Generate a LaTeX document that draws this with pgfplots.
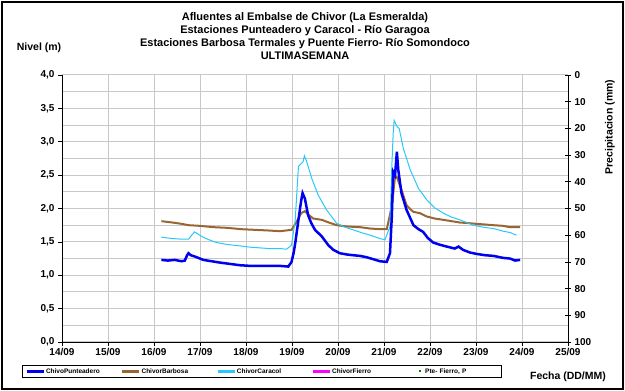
\documentclass[border=0pt]{standalone}
\usepackage{pgfplots}
\pgfplotsset{compat=1.18}
\usepackage{fontspec}
\setmainfont{Liberation Sans}

\definecolor{punt}{RGB}{0,0,240}
\definecolor{barb}{RGB}{153,102,51}
\definecolor{cara}{RGB}{40,200,250}
\definecolor{fierro}{RGB}{255,0,255}
\definecolor{ptef}{RGB}{0,128,0}
\definecolor{gridc}{RGB}{200,200,200}

\begin{document}
\begin{tikzpicture}[x=1pt,y=1pt]
\useasboundingbox (0,0) rectangle (625,391);
\draw[line width=1.5pt] (2,2) rectangle (623,389);

\begin{axis}[
    at={(62pt,49pt)}, anchor=south west,
    scale only axis, width=506pt, height=267pt,
    xmin=14, xmax=25, ymin=0, ymax=4,
    axis x line*=bottom, axis y line*=left,
    axis line style={black, line width=0.8pt, -},
    xtick={14,...,25},
    xticklabels={14/09,15/09,16/09,17/09,18/09,19/09,20/09,21/09,22/09,23/09,24/09,25/09},
    ytick={0,0.5,...,4},
    minor ytick={0.25,0.75,...,3.75},
    grid=both,
    major grid style={gridc, line width=1pt},
    minor grid style={gridc, line width=1pt},
    tick align=outside, major tick length=4pt, minor tick length=0pt,
    tick style={black, line width=0.7pt},
    yticklabel style={/pgf/number format/.cd, use comma, fixed, fixed zerofill, precision=1, assume math mode=true},
    ticklabel style={font=\fontsize{10}{11}\selectfont\bfseries},
    xticklabel style={yshift=1pt},
    legend columns=5,
    legend cell align=left,
    legend style={at={(rel axis cs:-0.079,-0.088)}, anchor=north west,
        draw=black, line width=0.8pt, inner xsep=3pt, inner ysep=1.5pt,
        font=\fontsize{6.5}{7}\selectfont\bfseries,
        nodes={text width=72pt, inner sep=1pt},
        /tikz/every even column/.append style={column sep=2pt}},
]
\addplot[barb, line width=2pt, forget plot] coordinates {
(16.16,1.81) (16.40,1.79) (16.60,1.77) (16.75,1.75) (17.00,1.74) (17.30,1.72)
(17.60,1.71) (17.90,1.69) (18.20,1.68) (18.50,1.67) (18.74,1.66) (18.99,1.68)
(19.10,1.80) (19.20,1.93) (19.28,1.96) (19.37,1.90) (19.46,1.85) (19.65,1.83)
(19.80,1.79) (19.97,1.75) (20.20,1.73) (20.48,1.72) (20.70,1.70) (20.91,1.69)
(21.06,1.69) (21.17,2.03) (21.24,2.48) (21.28,2.47) (21.38,2.28) (21.49,2.05)
(21.57,1.99) (21.64,1.95) (21.78,1.93) (21.93,1.88) (22.10,1.85) (22.29,1.83)
(22.47,1.81) (22.65,1.79) (22.85,1.78) (23.01,1.77) (23.20,1.76) (23.38,1.75)
(23.59,1.74) (23.74,1.72) (23.96,1.72)};
\addplot[cara, line width=1pt, forget plot] coordinates {
(16.16,1.57) (16.40,1.55) (16.60,1.54) (16.75,1.54) (16.82,1.60) (16.88,1.65)
(16.95,1.62) (17.04,1.58) (17.20,1.53) (17.36,1.49) (17.60,1.46) (17.87,1.44)
(18.10,1.42) (18.30,1.41) (18.50,1.40) (18.74,1.40) (18.88,1.39) (18.99,1.45)
(19.07,1.83) (19.14,2.63) (19.21,2.68) (19.24,2.70) (19.27,2.79) (19.32,2.70)
(19.43,2.45) (19.57,2.20) (19.75,1.98) (19.97,1.78) (20.15,1.72) (20.33,1.68)
(20.50,1.64) (20.70,1.60) (20.91,1.55) (21.02,1.53) (21.13,1.73) (21.17,2.63)
(21.20,3.13) (21.22,3.32) (21.28,3.23) (21.33,3.20) (21.42,2.90) (21.57,2.58)
(21.75,2.30) (21.93,2.13) (22.10,2.01) (22.29,1.93) (22.47,1.87) (22.65,1.83)
(22.80,1.79) (22.94,1.75) (23.15,1.72) (23.38,1.70) (23.59,1.66) (23.74,1.64)
(23.88,1.60)};
\addplot[punt, line width=2.5pt, forget plot] coordinates {
(16.16,1.23) (16.30,1.22) (16.45,1.23) (16.60,1.21) (16.67,1.22) (16.72,1.30)
(16.75,1.33) (16.80,1.30) (16.89,1.28) (17.00,1.25) (17.07,1.23) (17.25,1.21)
(17.43,1.19) (17.65,1.17) (17.87,1.15) (18.10,1.14) (18.30,1.14) (18.50,1.14)
(18.74,1.14) (18.92,1.13) (18.99,1.20) (19.04,1.35) (19.07,1.48) (19.14,1.83)
(19.20,2.12) (19.23,2.23) (19.28,2.15) (19.35,1.90) (19.42,1.78) (19.50,1.68)
(19.65,1.58) (19.79,1.45) (19.90,1.38) (20.04,1.33) (20.20,1.31) (20.33,1.30)
(20.48,1.29) (20.62,1.27) (20.77,1.24) (20.91,1.21) (21.06,1.20) (21.13,1.33)
(21.17,1.88) (21.20,2.55) (21.24,2.50) (21.28,2.85) (21.31,2.58) (21.38,2.23)
(21.49,1.98) (21.64,1.75) (21.75,1.69) (21.85,1.65) (21.95,1.56) (22.07,1.49)
(22.20,1.46) (22.36,1.43) (22.54,1.40) (22.62,1.43) (22.72,1.38) (22.87,1.34)
(23.01,1.32) (23.20,1.30) (23.38,1.29) (23.59,1.26) (23.74,1.25) (23.85,1.22)
(23.96,1.23)};
\addlegendimage{punt, line width=2.5pt}
\addlegendentry{ChivoPunteadero}
\addlegendimage{barb, line width=2.5pt}
\addlegendentry{ChivorBarbosa}
\addlegendimage{cara, line width=2.2pt}
\addlegendentry{ChivorCaracol}
\addlegendimage{fierro, line width=2.2pt}
\addlegendentry{ChivorFierro}
\addlegendimage{legend image code/.code={\fill[ptef, draw=none] (0.45cm-1pt,-1pt) rectangle ++(2pt,2pt); \path[draw=none, fill=none] (0,0) rectangle (0.6cm,0);}}
\addlegendentry{Pte- Fierro, P}
\end{axis}

\begin{axis}[
    at={(62pt,49pt)}, anchor=south west,
    scale only axis, width=506pt, height=267pt,
    xmin=14, xmax=25, ymin=0, ymax=100, y dir=reverse,
    axis x line=none, axis y line*=right,
    axis line style={black, line width=0.8pt, -},
    ytick={0,10,...,100},
    tick align=center, major tick length=6pt,
    tick style={black, line width=0.7pt},
    ticklabel style={font=\fontsize{10}{11}\selectfont\bfseries},
    yticklabel style={/pgf/number format/assume math mode=true},
]
\end{axis}

\node[font=\fontsize{11}{13}\selectfont\bfseries, align=center] at (305,354.5)
  {Afluentes al Embalse de Chivor (La Esmeralda)\\
   Estaciones Punteadero y Caracol - Río Garagoa\\
   Estaciones Barbosa Termales y Puente Fierro- Río Somondoco\\
   ULTIMASEMANA};
\node[font=\fontsize{10.5}{12}\selectfont\bfseries] at (39,343) {Nivel (m)};
\node[font=\fontsize{10.5}{12}\selectfont\bfseries] at (568,14) {Fecha (DD/MM)};
\node[font=\fontsize{10.5}{12}\selectfont\bfseries, rotate=90] at (610,264) {Precipitacion (mm)};
\end{tikzpicture}
\end{document}
